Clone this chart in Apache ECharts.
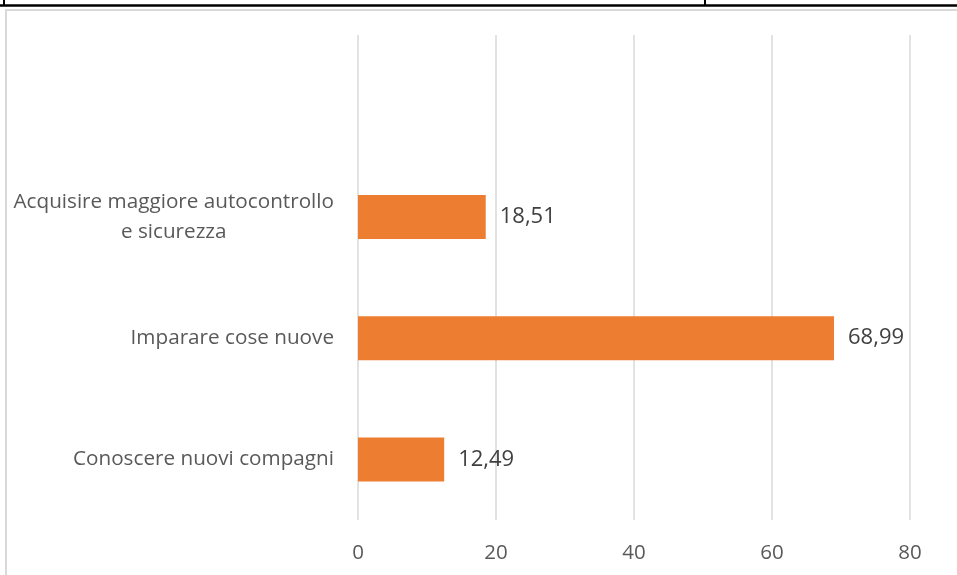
<!DOCTYPE html>
<html>
<head>
<meta charset="utf-8">
<script src="https://cdn.jsdelivr.net/npm/echarts@6/dist/echarts.min.js"></script>
<style>
  html, body { margin: 0; padding: 0; background: #fff; }
  #chart { width: 957px; height: 575px; }
</style>
</head>
<body>
<div id="chart"></div>
<script>
// categories bottom -> top (the top slot is empty in the original)
const categories = ['Conoscere nuovi compagni', 'Imparare cose nuove', 'Acquisire maggiore autocontrollo\ne sicurezza', ''];
const values = [12.49, 68.99, 18.51, null];
const xTicks = [0, 20, 40, 60, 80];

const chart = echarts.init(document.getElementById('chart'));
const font = 'Open Sans';

chart.setOption({
  animation: false,
  grid: { left: 358, right: 47, top: 35, bottom: 55, containLabel: false },
  xAxis: {
    type: 'value',
    min: xTicks[0],
    max: xTicks[xTicks.length - 1],
    interval: 20,
    axisLine: { show: false },
    axisTick: { show: false },
    splitLine: { lineStyle: { color: '#d9d9d9', width: 1.5 } },
    axisLabel: { color: '#595959', fontFamily: font, fontSize: 20.5, margin: 23 }
  },
  yAxis: {
    type: 'category',
    data: categories,
    axisLine: { show: false },
    axisTick: { show: false },
    axisLabel: {
      color: '#595959', fontFamily: font, fontSize: 20.7, margin: 24, lineHeight: 30,
      formatter: function (v) {
        return v.split('\n').map(function (l) { return '{c|' + l + '}'; }).join('\n');
      },
      rich: { c: { align: 'center', color: '#595959', fontFamily: font, fontSize: 20.7, lineHeight: 30 } }
    }
  },
  series: [{
    type: 'bar',
    data: values,
    barWidth: 44,
    itemStyle: { color: '#ED7D31' },
    label: {
      show: true,
      position: 'right',
      distance: 14,
      color: '#404040',
      fontFamily: font,
      fontSize: 22,
      formatter: function (p) { return p.value == null ? '' : p.value.toFixed(2).replace('.', ','); }
    }
  }],
  graphic: [
    // chart frame (light grey border) and clipped table border above it
    { type: 'rect', shape: { x: 6, y: 10, width: 1000, height: 600 }, style: { fill: 'none', stroke: '#d9d9d9', lineWidth: 2 }, silent: true },
    { type: 'line', shape: { x1: 0, y1: 5.5, x2: 957, y2: 5.5 }, style: { stroke: '#000', lineWidth: 2.5 }, silent: true },
    { type: 'line', shape: { x1: 4, y1: 0, x2: 4, y2: 6 }, style: { stroke: '#000', lineWidth: 2 }, silent: true },
    { type: 'line', shape: { x1: 705, y1: 0, x2: 705, y2: 6 }, style: { stroke: '#000', lineWidth: 2 }, silent: true }
  ]
});
</script>
</body>
</html>
